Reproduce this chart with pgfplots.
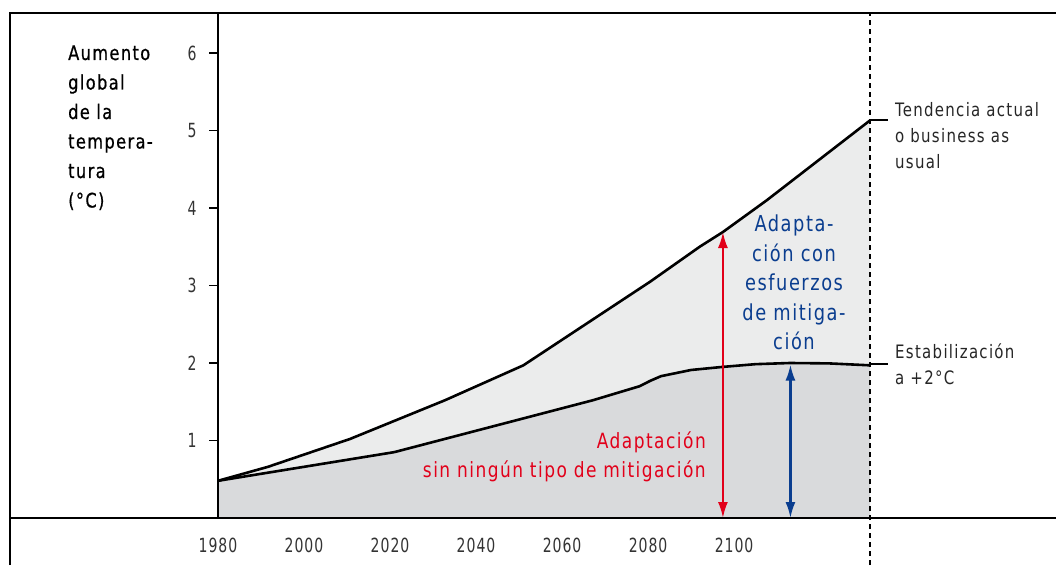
\documentclass[border=0pt]{standalone}
\usepackage{pgfplots}
\pgfplotsset{compat=1.18}
\usetikzlibrary{arrows.meta}
\usepackage{fontspec}
\setmainfont{DejaVu Sans Condensed}[FakeStretch=0.9, LetterSpace=7]
\newfontfamily\ylabfont{DejaVu Sans Condensed}[FakeStretch=0.9, LetterSpace=7, FakeBold=0.6]
\newfontfamily\tickfont{DejaVu Sans Condensed}[FakeStretch=0.8, LetterSpace=5]
\definecolor{lightfill}{HTML}{EBECEC}
\definecolor{darkfill}{HTML}{D9DADC}
\definecolor{myred}{HTML}{E2001A}
\definecolor{myblue}{HTML}{0A3D8F}
\definecolor{ticktext}{HTML}{333333}
\newcommand\lab{\fontsize{18.5}{26}\selectfont}
\newcommand\tk{\tickfont\fontsize{19.5}{22}\selectfont}
\begin{document}
\begin{tikzpicture}[x=1pt,y=1pt]
\useasboundingbox (0,0) rectangle (1056,565);
\begin{axis}[at={(218pt,47pt)}, anchor=south west, scale only axis,
  width=652pt, height=505pt,
  xmin=1980, xmax=2131.6, ymin=0, ymax=6.516,
  axis line style={draw=none}, clip=false,
  xtick={1980,2000,...,2100}, ytick={1,...,6},
  xtick pos=left, ytick pos=left,
  xtick align=inside, ytick align=outside,
  major tick length=9pt,
  tick style={black, line width=1.3pt},
  /pgf/number format/1000 sep={},
  /pgf/number format/assume math mode=true,
  xticklabel style={font=\tk, text=ticktext, yshift=-16pt},
  yticklabel style={font=\tk, text=ticktext, xshift=-9pt},
]
\addplot[fill=lightfill, draw=none] coordinates {(1980,0.48) (1991.6,0.66) (2010.7,1.02) (2032.8,1.52) (2051,1.97) (2080.5,3.05) (2092,3.50) (2097.4,3.69) (2107.6,4.10) (2131.6,5.13)} \closedcycle;
\addplot[fill=darkfill, draw=none] coordinates {(1980,0.48) (2021,0.85) (2067.2,1.52) (2078,1.70) (2080.5,1.77) (2083,1.83) (2090,1.91) (2097.4,1.95) (2105,1.985) (2113,2.0) (2122,1.995) (2131.6,1.97)} \closedcycle;
\addplot[black, line width=2.6pt, line join=round] coordinates {(1980,0.48) (1991.6,0.66) (2010.7,1.02) (2032.8,1.52) (2051,1.97) (2080.5,3.05) (2092,3.50) (2097.4,3.69) (2107.6,4.10) (2131.6,5.13)};
\addplot[black, line width=2.6pt, line join=round] coordinates {(1980,0.48) (2021,0.85) (2067.2,1.52) (2078,1.70) (2080.5,1.77) (2083,1.83) (2090,1.91) (2097.4,1.95) (2105,1.985) (2113,2.0) (2122,1.995) (2131.6,1.97)};
\addplot[myred, line width=2.2pt, {Latex[length=16pt,width=10pt]}-{Latex[length=16pt,width=10pt]}] coordinates {(2097.4,0) (2097.4,3.69)};
\addplot[myblue, line width=2.2pt, {Latex[length=16pt,width=10pt]}-{Latex[length=16pt,width=10pt]}] coordinates {(2113.1,0) (2113.1,1.98)};
\end{axis}
% frame and axes lines
\draw[line width=2.8pt, line join=miter] (10,0) -- (10,552) -- (1056,552);
\draw[line width=2pt] (10,47) -- (1056,47);
\draw[line width=1.3pt] (218,47) -- (218,552);
\draw[line width=1.6pt, dash pattern=on 5pt off 4pt] (870,0) -- (870,552);
\draw[line width=1.5pt] (870,445) -- (888,445);
\draw[line width=1.5pt] (870,201) -- (888,201);
% y label
\foreach \t [count=\i from 0] in {Aumento,global,de la,tempera-,tura,(°C)}
  \node[anchor=base west, inner sep=0, font=\ylabfont\fontsize{20}{24}\selectfont] at (68, 565-60-29.5*\i) {\t};
% right labels
\node[anchor=base west, inner sep=0, font=\lab, text=black!85] at (895, 565-117) {Tendencia actual};
\node[anchor=base west, inner sep=0, font=\lab, text=black!85] at (895, 565-143) {o business as};
\node[anchor=base west, inner sep=0, font=\lab, text=black!85] at (895, 565-169) {usual};
\node[anchor=base west, inner sep=0, font=\lab, text=black!85] at (895, 565-358) {Estabilización};
\node[anchor=base west, inner sep=0, font=\lab, text=black!85] at (895, 565-384) {a +2°C};
% blue text
\foreach \t [count=\i from 0] in {Adapta-,ción con,esfuerzos,de mitiga-,ción}
  \node[anchor=base, inner sep=0, font=\fontsize{22}{24}\selectfont, text=myblue] at (794, 565-232-29.5*\i) {\t};
% red text
\node[anchor=base east, inner sep=0, font=\fontsize{21}{24}\selectfont, text=myred] at (706, 565-448) {Adaptación};
\node[anchor=base east, inner sep=0, font=\fontsize{21}{24}\selectfont, text=myred] at (706, 565-477) {sin ningún tipo de mitigación};
\end{tikzpicture}
\end{document}
